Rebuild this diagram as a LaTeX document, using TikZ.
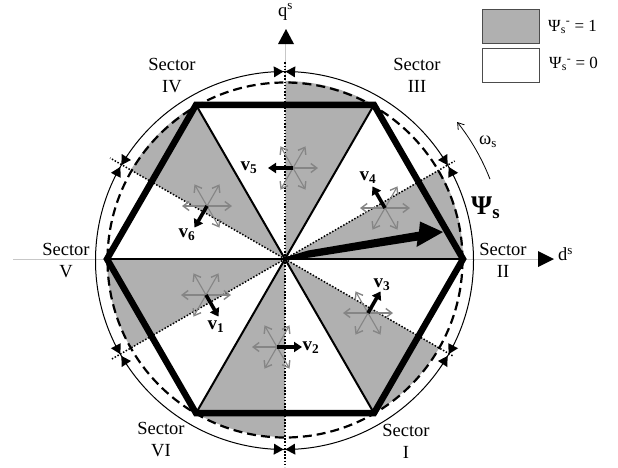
\documentclass[tikz,border=0pt]{standalone}
\usepackage{fontspec}
\setmainfont{Liberation Serif}
\usetikzlibrary{arrows.meta,calc}
\definecolor{sectorgray}{HTML}{B0B0B0}
\definecolor{vecgray}{HTML}{858585}
\tikzset{
  spoke/.style={line width=2pt,black},
  hexline/.style={line width=6.4pt,black,line join=miter},
  dotline/.style={line width=1.5pt,black,dash pattern=on 1.5pt off 1.7pt},
  axisgray/.style={line width=0.8pt,black!22},
  graybranch/.style={line width=1.1pt,vecgray,-{Straight Barb[length=6pt,width=9pt,line width=1.4pt]}},
  blackbranch/.style={line width=3.6pt,black,-{Triangle[length=8pt,width=10pt]}},
  lbl/.style={font=\fontsize{18.5}{22}\selectfont,align=center,inner sep=0pt},
  leglbl/.style={font=\fontsize{17}{20}\selectfont,anchor=west,inner sep=0pt},
  vlbl/.style={font=\fontsize{19}{20}\selectfont\bfseries,inner sep=0pt},
  tick/.style={fill=black,draw=none},
  legbox/.style={draw=black!70,line width=1pt,minimum width=57pt,minimum height=34pt,inner sep=0pt}
}
\newcommand{\vecstar}[4]{% x,y,black angle,name
  \coordinate (#4) at (#1,#2);
  \foreach \a in {0,60,...,300}{
    \coordinate (#4e\a) at ($(#4)+({25*cos(\a)},{-25*sin(\a)})$);
    \ifnum\a=#3\relax\else\draw[graybranch] (#4) -- (#4e\a);\fi
  }
  \draw[blackbranch] (#4) -- (#4e#3);
}
\begin{document}
\begin{tikzpicture}[x=1pt,y=-1pt]
\useasboundingbox (0,0) rectangle (618,467);
\coordinate (O) at (285,259);
\coordinate (C) at (284.5,260.5);
% shaded wedges
\foreach \a in {0,60,120,180,240,300}{
  \fill[sectorgray] (O) -- ($(O)+({178*cos(\a)},{-178*sin(\a)})$)
    \foreach \t in {3,6,...,30}{ -- ($(O)+({178*cos(\a+\t)},{-178*sin(\a+\t)})$)} -- cycle;
}
% axes
\coordinate (dL) at (13,259);
\coordinate (dR) at (538,259);
\coordinate (qT) at (285,44);
\draw[axisgray] (dL) -- (dR);
\draw[axisgray] (O) -- (qT);
\fill[black] (538,251) -- (554,259) -- (538,267) -- cycle;
\fill[black] (278,44) -- (286,29) -- (294,44) -- cycle;
% dotted boundaries
\foreach \a/\r in {30/196,150/202,210/201,330/194}{
  \coordinate (b\a) at ($(O)+({\r*cos(\a)},{-\r*sin(\a)})$);
  \draw[dotline] (O) -- (b\a);
}
\coordinate (b90) at (285,62);
\coordinate (b270) at (285,467);
\draw[dotline,line width=2.1pt] (O) -- (b90);
\draw[dotline,line width=1.7pt] (O) -- (b270);
% circles
\draw[line width=1pt] (C) circle[radius=189];
\draw[line width=2.2pt,dash pattern=on 9pt off 5pt] (285,260) circle[radius=177.5];
% spokes and hexagon
\foreach \a in {0,60,...,300}{
  \coordinate (h\a) at ($(O)+({178*cos(\a)},{-178*sin(\a)})$);
  \draw[spoke] (O) -- (h\a);
}
\draw[hexline] (h0) -- (h60) -- (h120) -- (h180) -- (h240) -- (h300) -- cycle;
% sector ticks on the outer circle
\foreach \a in {30,90,150,210,270,330}{
  \foreach \s in {1,-1}{
    \fill[tick] ($(C)+({189*cos(\a+\s*0.3)},{-189*sin(\a+\s*0.3)})$)
      -- ($(C)+({194.5*cos(\a+\s*3.2)},{-194.5*sin(\a+\s*3.2)})$)
      -- ($(C)+({183.5*cos(\a+\s*3.2)},{-183.5*sin(\a+\s*3.2)})$) -- cycle;
  }
}
% vector stars
\vecstar{207}{206}{240}{sa}
\vecstar{206}{295}{300}{sb}
\vecstar{277}{347}{0}{sc}
\vecstar{368}{313}{60}{sd}
\vecstar{385}{208}{120}{se}
\vecstar{293}{168}{180}{sf}
% flux vector
\fill[black] (O) ++(0.2,1.6) -- (310,257.5) -- (417.4,240.6) -- (416.5,247) -- (443,232) -- (420,221.5) -- (419,231.6) -- (308,250.5) -- (284.8,257.4) -- cycle;
% rotation arc
\coordinate (wa) at ($(O)+({220*cos(21.3)},{-220*sin(21.3)})$);
\draw[line width=0.8pt,-{Straight Barb[length=6pt,width=8pt]}] (wa) arc[start angle=-21.3,end angle=-38.5,radius=220];
% labels
\node[lbl] (l1) at (417,75) {Sector\\III};
\node[lbl] (l2) at (172,76) {Sector\\IV};
\node[lbl] (l3) at (66,261) {Sector\\V};
\node[lbl] (l4) at (161,440) {Sector\\VI};
\node[lbl] (l5) at (406,441) {Sector\\I};
\node[lbl] (l6) at (503,260) {Sector\\II};
\node[lbl,anchor=west] (dlab) at (558,254) {d\textsuperscript{s}};
\node[lbl,anchor=west] (qlab) at (278,12) {q\textsuperscript{s}};
\node[lbl,anchor=west] (wlab) at (479,142) {ω\textsubscript{s}};
\node[anchor=west,inner sep=0pt,font=\fontsize{27}{28}\selectfont\bfseries] (psil) at (471,208) {Ψ\textsubscript{s}};
\node[vlbl] at (187,235) {v\textsubscript{6}};
\node[vlbl] at (249,168) {v\textsubscript{5}};
\node[vlbl] at (368,178) {v\textsubscript{4}};
\node[vlbl] at (382,285) {v\textsubscript{3}};
\node[vlbl] at (311,348) {v\textsubscript{2}};
\node[vlbl] at (216,327) {v\textsubscript{1}};
% legend
\node[legbox,fill=sectorgray] (k1) at (510.5,26) {};
\node[legbox,fill=white] (k0) at (510.5,65) {};
\node[leglbl] (t1) at (548,27) {Ψ\textsubscript{s}\textsuperscript{-} = 1};
\node[leglbl] (t0) at (549,64) {Ψ\textsubscript{s}\textsuperscript{-} = 0};
\end{tikzpicture}
\end{document}
